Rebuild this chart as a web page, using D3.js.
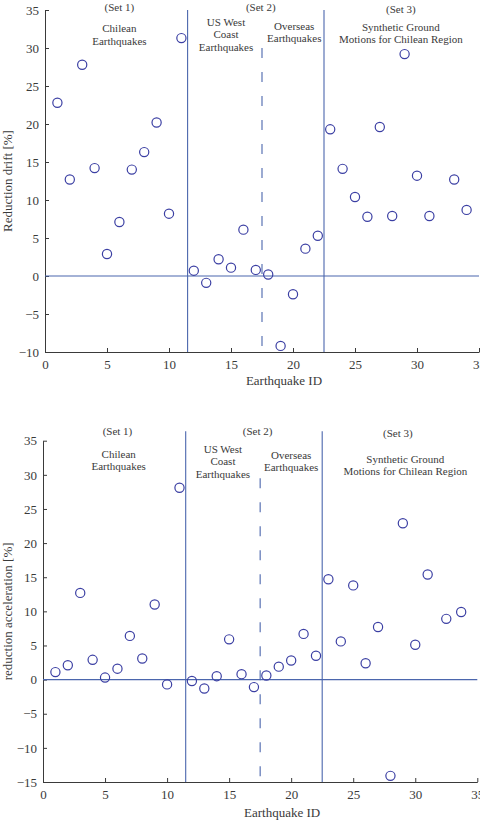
<!DOCTYPE html>
<html>
<head>
<meta charset="utf-8">
<script src="https://cdn.jsdelivr.net/npm/d3@7"></script>
<style>
  body { margin: 0; background: #fff; }
  svg { display: block; }
  svg text { font-family: "Liberation Serif", "Times New Roman", Times, serif; }
</style>
</head>
<body>
<svg id="chart" width="480" height="822"></svg>
<script>
// earthquake ids and % reductions
const driftIds = [1, 2, 3, 4, 5, 6, 7, 8, 9, 10, 11, 12, 13, 14, 15, 16, 17,
  18, 19, 20, 21, 22, 23, 24, 25, 26, 27, 28, 29, 30, 31, 33, 34];
const driftValues = [22.8, 12.7, 27.8, 14.2, 2.9, 7.1, 14.0, 16.3, 20.2, 8.2,
  31.3, 0.7, -0.9, 2.2, 1.1, 6.1, 0.8, 0.2, -9.2, -2.4, 3.6, 5.3, 19.3, 14.1,
  10.4, 7.8, 19.6, 7.9, 29.2, 13.2, 7.9, 12.7, 8.7];

const accelIds = [1, 2, 3, 4, 5, 6, 7, 8, 9, 10, 11, 12, 13, 14, 15, 16, 17,
  18, 19, 20, 21, 22, 23, 24, 25, 26, 27, 28, 29, 30, 31, 32.5, 33.7];
const accelValues = [1.1, 2.1, 12.7, 2.9, 0.3, 1.6, 6.4, 3.1, 11.0, -0.7,
  28.1, -0.2, -1.3, 0.5, 5.9, 0.8, -1.1, 0.6, 1.9, 2.8, 6.7, 3.5, 14.7, 5.6,
  13.8, 2.4, 7.7, -14.1, 22.9, 5.1, 15.4, 8.9, 9.9];

const setBounds = [11.5, 22.5];  // solid dividers
const subBound = 17.5;           // dashed divider inside set 2
const xTicks = [0, 5, 10, 15, 20, 25, 30, 35];

const noteSets = ["(Set 1)", "(Set 2)", "(Set 3)"];
const noteGroups = [
  ["Chilean", "Earthquakes"],
  ["US West", "Coast", "Earthquakes"],
  ["Overseas", "Earthquakes"],
  ["Synthetic Ground", "Motions for Chilean Region"],
];

const markColor = "#3b3fa3";
const lineColor = "#4b66ad";
const axisColor = "#3a3a3a";

const panels = [
  {
    ids: driftIds, values: driftValues,
    yDomain: [-10, 35], yTicks: d3.range(-10, 36, 5),
    left: 45, right: 479, top: 10, bottom: 352,
    lineTop: 35, dashTop: 30,
    ylabel: "Reduction drift [%]", xlabelY: 385,
    setPos: [[6, 11], [17.4, 10.5], [28.7, 12.5]],
    groupPos: [[6, 32], [14.6, 25.5], [20.1, 29.5], [28.7, 30.5]],
  },
  {
    ids: accelIds, values: accelValues,
    yDomain: [-15, 35], yTicks: d3.range(-15, 36, 5),
    left: 43, right: 477.3, top: 440.7, bottom: 782,
    lineTop: 36.4, dashTop: 29.5,
    ylabel: "reduction acceleration [%]", xlabelY: 817,
    setPos: [[6, 434.5], [17.3, 434.5], [28.6, 436.5]],
    groupPos: [[6.1, 457.5], [14.5, 452.5], [20, 458.5], [29.2, 462.5]],
  },
];

const svg = d3.select("#chart");

panels.forEach((p) => {
  const x = d3.scaleLinear().domain([0, 35]).range([p.left, p.right]);
  const y = d3.scaleLinear().domain(p.yDomain).range([p.bottom, p.top]);
  const g = svg.append("g");

  // axes, ticks pointing inward
  g.append("g")
    .attr("transform", `translate(${p.left},0)`)
    .call(d3.axisLeft(y).tickValues(p.yTicks).tickSizeInner(-4).tickSizeOuter(0)
      .tickPadding(6).tickFormat((d) => (d < 0 ? "\u2212" + Math.abs(d) : d)))
    .call((a) => a.selectAll("text").attr("font-size", 13).attr("fill", axisColor));

  g.append("g")
    .attr("transform", `translate(0,${p.bottom})`)
    .call(d3.axisBottom(x).tickValues(xTicks).tickSizeInner(-4).tickSizeOuter(0)
      .tickPadding(8))
    .call((a) => a.selectAll("text").attr("font-size", 13).attr("fill", axisColor));

  g.selectAll(".domain, .tick line").attr("stroke", axisColor);

  // zero line
  g.append("line")
    .attr("x1", x(0)).attr("x2", x(35))
    .attr("y1", y(0)).attr("y2", y(0))
    .attr("stroke", lineColor).attr("stroke-width", 1.1);

  // set dividers
  g.selectAll(".divider")
    .data(setBounds)
    .join("line")
    .attr("class", "divider")
    .attr("x1", (d) => x(d)).attr("x2", (d) => x(d))
    .attr("y1", y(p.lineTop)).attr("y2", p.bottom)
    .attr("stroke", lineColor).attr("stroke-width", 1.1);

  g.append("line")
    .attr("x1", x(subBound)).attr("x2", x(subBound))
    .attr("y1", y(p.dashTop)).attr("y2", p.bottom)
    .attr("stroke", lineColor).attr("stroke-width", 1.1)
    .attr("stroke-dasharray", "10,14");

  // points
  g.selectAll("circle")
    .data(p.ids.map((id, i) => ({ id, v: p.values[i] })))
    .join("circle")
    .attr("cx", (d) => x(d.id))
    .attr("cy", (d) => y(d.v))
    .attr("r", 4.6)
    .attr("fill", "none")
    .attr("stroke", markColor)
    .attr("stroke-width", 1.2);

  // region notes
  g.selectAll(".set-note")
    .data(noteSets)
    .join("text")
    .attr("class", "set-note")
    .attr("x", (d, i) => x(p.setPos[i][0]))
    .attr("y", (d, i) => p.setPos[i][1])
    .attr("text-anchor", "middle")
    .attr("font-size", 11)
    .attr("fill", axisColor)
    .text((d) => d);

  noteGroups.forEach((lines, i) => {
    const t = g.append("text")
      .attr("text-anchor", "middle")
      .attr("font-size", 11)
      .attr("fill", axisColor);
    lines.forEach((line, j) => {
      t.append("tspan")
        .attr("x", x(p.groupPos[i][0]))
        .attr("y", p.groupPos[i][1] + j * 12.8)
        .text(line);
    });
  });

  // axis labels
  g.append("text")
    .attr("x", (p.left + p.right) / 2 + 22)
    .attr("y", p.xlabelY)
    .attr("text-anchor", "middle")
    .attr("font-size", 13)
    .attr("fill", axisColor)
    .text("Earthquake ID");

  g.append("text")
    .attr("transform", `translate(12,${(p.top + p.bottom) / 2}) rotate(-90)`)
    .attr("text-anchor", "middle")
    .attr("font-size", 13)
    .attr("fill", axisColor)
    .text(p.ylabel);
});
</script>
</body>
</html>
